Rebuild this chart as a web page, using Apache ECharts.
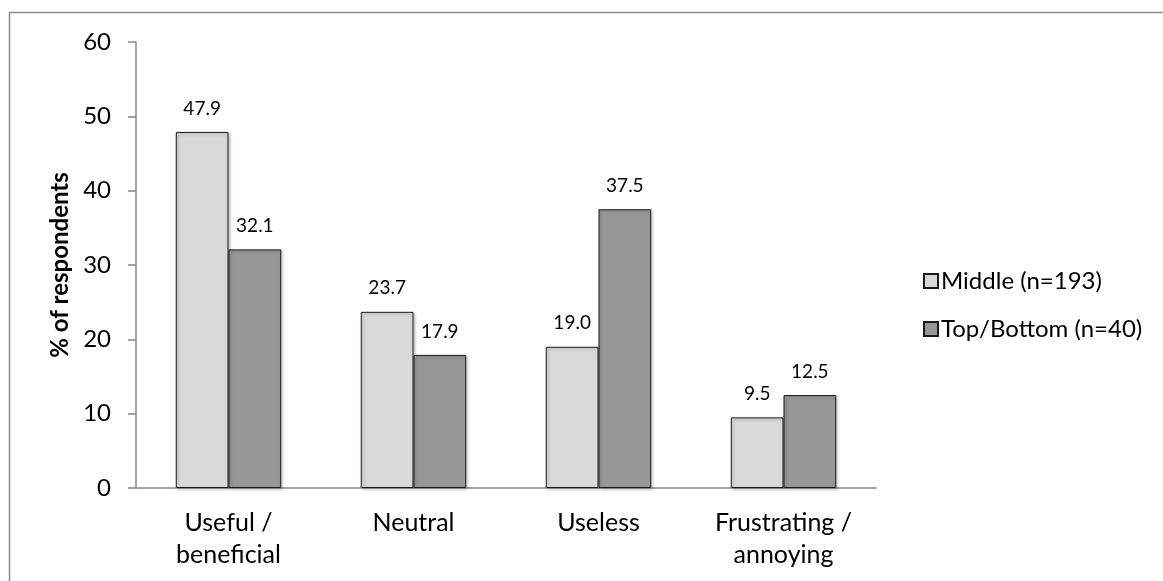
<!DOCTYPE html>
<html>
<head>
<meta charset="utf-8">
<style>
  html, body { margin: 0; padding: 0; background: #fff; }
  #chart { width: 1163px; height: 581px; }
</style>
<script src="https://cdn.jsdelivr.net/npm/echarts@6/dist/echarts.min.js"></script>
</head>
<body>
<div id="chart"></div>
<script>
// Survey responses by group (% of respondents)
const categories = ['Useful /\nbeneficial', 'Neutral', 'Useless', 'Frustrating /\nannoying'];
const middleValues = [47.9, 23.7, 19.0, 9.5];
const topBottomValues = [32.1, 17.9, 37.5, 12.5];
const seriesNames = ['Middle (n=193)', 'Top/Bottom (n=40)'];
const yTicks = { min: 0, max: 60, interval: 10 };

const FONT = 'Lato';
const AXIS_COLOR = '#868686';

const chart = echarts.init(document.getElementById('chart'), null, { renderer: 'canvas' });

function barSeries(name, values, color) {
  return {
    name: name,
    type: 'bar',
    data: values,
    barGap: '0%',
    barCategoryGap: '43%',
    itemStyle: {
      color: color,
      borderColor: '#1a1a1a',
      borderWidth: 1,
      shadowColor: 'rgba(0,0,0,0.25)',
      shadowBlur: 3,
      shadowOffsetX: 1.5,
      shadowOffsetY: 1.5
    },
    label: {
      show: true,
      position: 'top',
      distance: 14,
      color: '#000',
      fontFamily: FONT,
      fontSize: 19,
      formatter: p => p.value.toFixed(1)
    },
    emphasis: { disabled: true }
  };
}

chart.setOption({
  animation: false,
  backgroundColor: '#fff',
  textStyle: { fontFamily: FONT },
  grid: { left: 136, right: 287, top: 42, bottom: 93, containLabel: false },
  legend: {
    orient: 'vertical',
    left: 918,
    top: 264,
    itemWidth: 14,
    itemHeight: 14,
    itemGap: 24,
    icon: 'rect',
    textStyle: { fontFamily: FONT, fontSize: 24, color: '#000', lineHeight: 24, padding: [0, 0, 0, -2] },
    data: seriesNames
  },
  xAxis: {
    type: 'category',
    data: categories,
    axisLine: { show: true, lineStyle: { color: AXIS_COLOR, width: 1.5 } },
    axisTick: { show: false },
    axisLabel: {
      color: '#000',
      fontFamily: FONT,
      fontSize: 25,
      lineHeight: 32,
      margin: 19,
      interval: 0
    }
  },
  yAxis: {
    type: 'value',
    min: yTicks.min,
    max: yTicks.max,
    interval: yTicks.interval,
    name: '% of respondents',
    nameLocation: 'middle',
    nameGap: 62,
    nameTextStyle: { fontFamily: FONT, fontSize: 24, fontWeight: 'bold', color: '#000' },
    axisLine: { show: true, lineStyle: { color: AXIS_COLOR, width: 1.5 } },
    axisTick: { show: true, inside: false, length: 8, lineStyle: { color: AXIS_COLOR, width: 1.5 } },
    splitLine: { show: false },
    axisLabel: { color: '#000', fontFamily: FONT, fontSize: 24, margin: 25 }
  },
  series: [
    barSeries(seriesNames[0], middleValues, '#d9d9d9'),
    barSeries(seriesNames[1], topBottomValues, '#979797')
  ],
  graphic: [
    {
      type: 'polyline',
      silent: true,
      shape: { points: [[9.5, 581], [9.5, 12.5], [1163, 12.5]] },
      style: { stroke: '#8a8a8a', lineWidth: 1.5, fill: null }
    }
  ]
});
</script>
</body>
</html>
